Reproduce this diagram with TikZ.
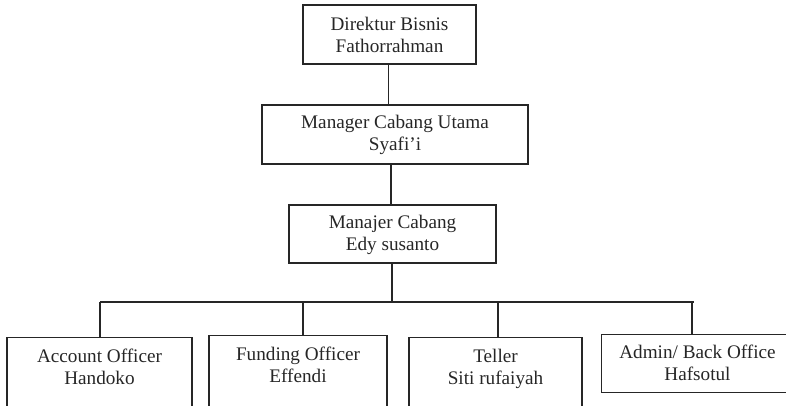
\documentclass[tikz,border=0pt]{standalone}
\usepackage{fontspec}
\setmainfont{Liberation Serif}
\definecolor{ink}{HTML}{262626}
\begin{document}
\begin{tikzpicture}[x=0.75pt,y=-0.75pt,
  box/.style={draw=ink,line width=1pt,rectangle,inner sep=0pt},
  lbl/.style={text=ink,align=center,font=\fontsize{14.4}{16.5}\selectfont,inner sep=0pt},
  conn/.style={draw=ink,line width=1pt}]
\useasboundingbox (0,0) rectangle (786,405);
\clip (0,0) rectangle (786,405);
% top boxes
\node[box,minimum width=129.75pt,minimum height=44.25pt] (dir) at (389.5,34.5) {};
\node[lbl] at ([yshift=-0.5pt]dir.center) {Direktur Bisnis\\Fathorrahman};
\node[box,minimum width=199.5pt,minimum height=44.25pt] (mcu) at (395,134.5) {};
\node[lbl] at ([yshift=-0.5pt]mcu.center) {Manager Cabang Utama\\Syafi’i};
\node[box,minimum width=155.25pt,minimum height=43.5pt] (mc) at (392.5,234) {};
\node[lbl] at ([yshift=-0.5pt]mc.center) {Manajer Cabang\\Edy susanto};
% bottom boxes (cut at the bottom edge)
\node[box,minimum width=138.75pt,minimum height=75pt,anchor=north] (ao) at (99.5,337) {};
\node[lbl,anchor=north] at ([yshift=-8.8pt]ao.north) {Account Officer\\Handoko};
\node[box,minimum width=133.5pt,minimum height=75pt,anchor=north] (fo) at (298,335) {};
\node[lbl,anchor=north] at ([yshift=-8.8pt]fo.north) {Funding Officer\\Effendi};
\node[box,minimum width=129.75pt,minimum height=75pt,anchor=north] (te) at (495.5,337) {};
\node[lbl,anchor=north] at ([yshift=-8.8pt]te.north) {Teller\\Siti rufaiyah};
\node[box,minimum width=144.75pt,minimum height=43.5pt,anchor=north west] (ad) at (601,334) {};
\node[lbl] at (697.5,363) {Admin/ Back Office\\Hafsotul};
% connectors
\coordinate (bus) at (392,302);
\coordinate (busL) at (100,302);
\coordinate (busR) at (694,302);
\draw[conn] (dir.south -| 388.5,0) -- (mcu.north -| 388.5,0);
\draw[conn] (mcu.south -| 391,0) -- (mc.north -| 391,0);
\draw[conn] (mc.south -| bus) -- (bus);
\draw[conn] (busL) -- (busR);
\draw[conn] (busL) -- (ao.north -| busL);
\draw[conn] (303,302) -- (fo.north -| 303,0);
\draw[conn] (498,302) -- (te.north -| 498,0);
\draw[conn] (692,302) -- (ad.north -| 692,0);
\end{tikzpicture}
\end{document}
